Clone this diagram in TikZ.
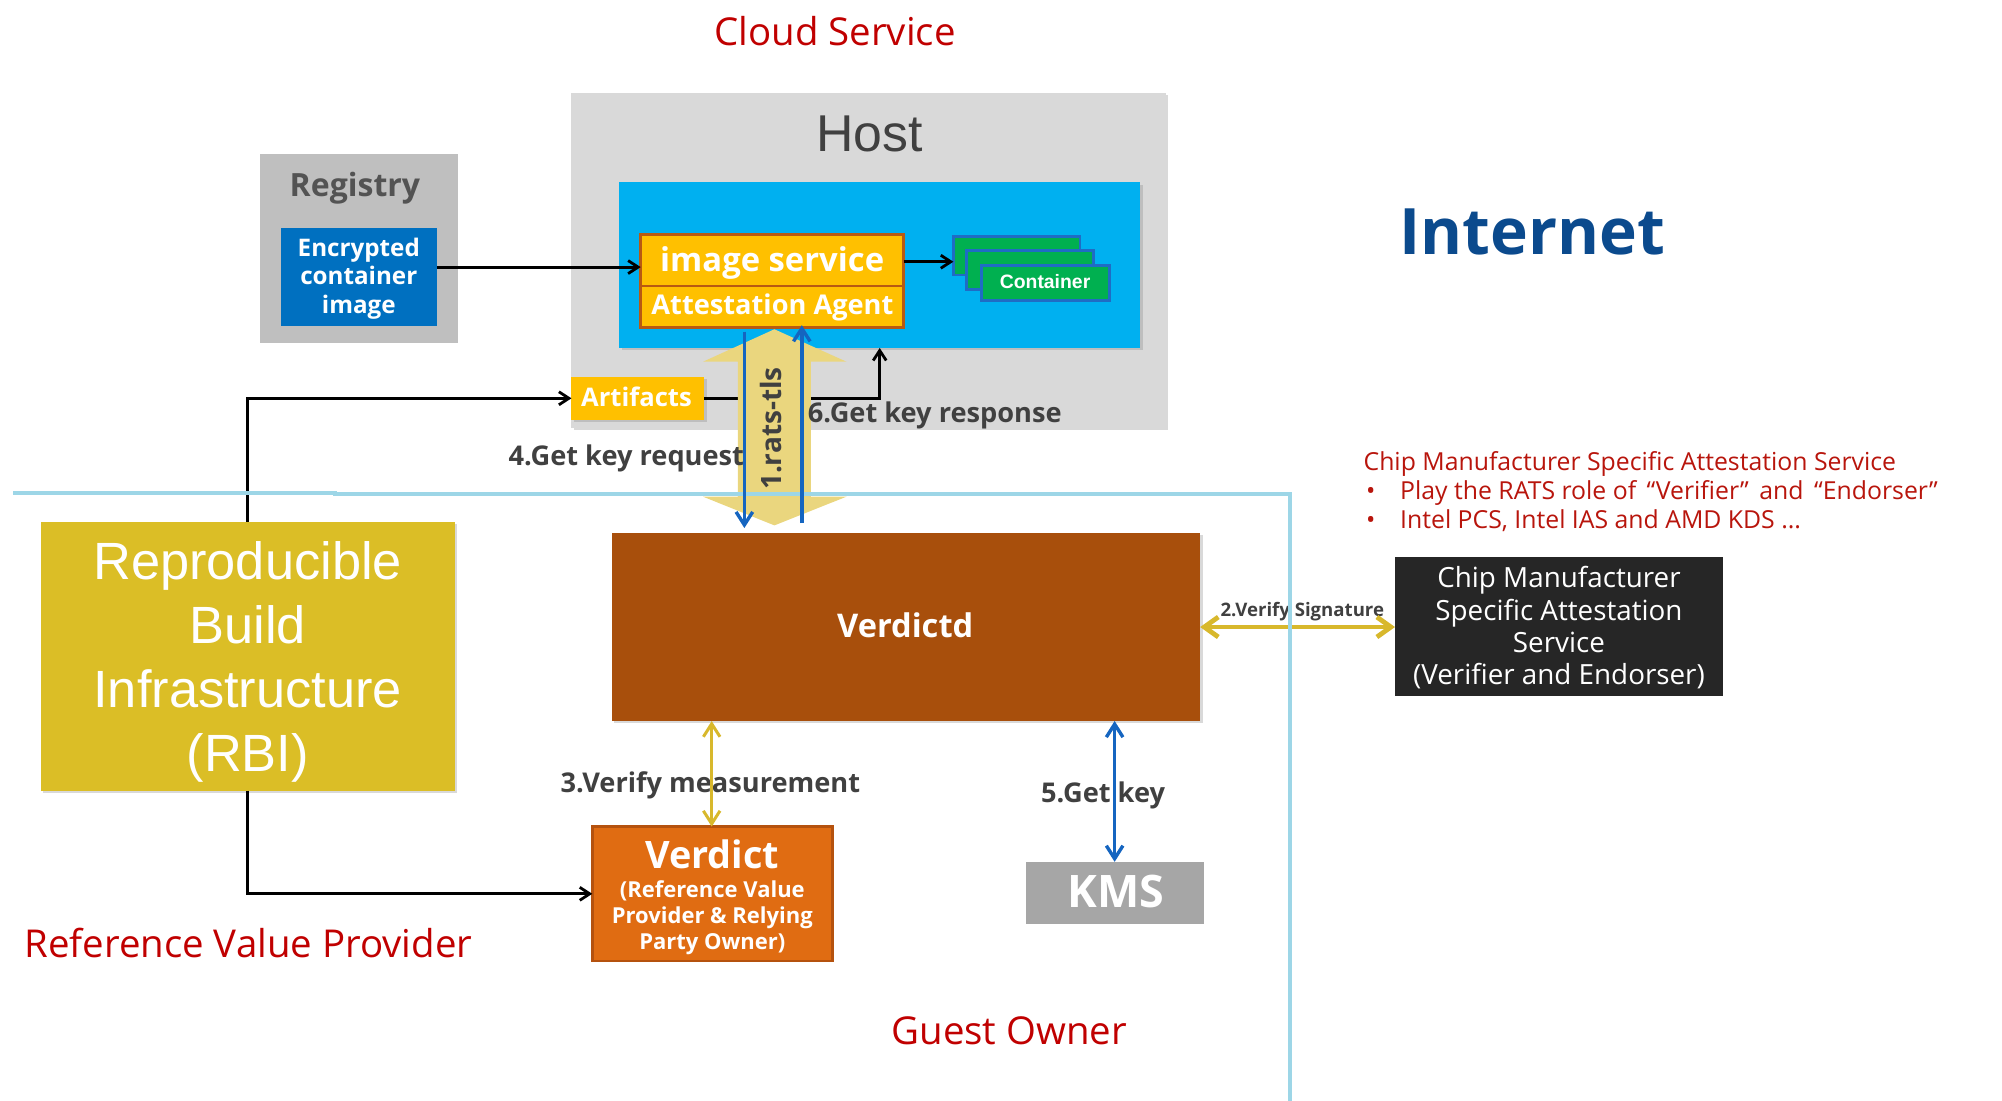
\documentclass[tikz,border=0pt]{standalone}
\usepackage{fontspec}
\setmainfont{Open Sans}
\newfontfamily\arialf{Liberation Sans}
\usetikzlibrary{arrows.meta,fit,shadows}
\definecolor{hostgray}{HTML}{D9D9D9}
\definecolor{hostblue}{HTML}{00B0F0}
\definecolor{ambr}{HTML}{FFC000}
\definecolor{ambrbd}{HTML}{B85A12}
\definecolor{contgreen}{HTML}{00B050}
\definecolor{contblue}{HTML}{1F6CC4}
\definecolor{reggray}{HTML}{BFBFBF}
\definecolor{encblue}{HTML}{0070C0}
\definecolor{rbigold}{HTML}{DBBE26}
\definecolor{vdbrown}{HTML}{A84F0C}
\definecolor{chipdark}{HTML}{262626}
\definecolor{verdictor}{HTML}{E06C12}
\definecolor{verdictbd}{HTML}{B5520E}
\definecolor{kmsgray}{HTML}{A6A6A6}
\definecolor{goldarr}{HTML}{D8B82C}
\definecolor{khaki}{HTML}{EAD67E}
\definecolor{sepblue}{HTML}{9DD6E7}
\definecolor{arrowblue}{HTML}{1565C0}
\definecolor{headred}{HTML}{C00000}
\definecolor{chipred}{HTML}{B8150C}
\definecolor{lblgray}{HTML}{404040}
\definecolor{netblue}{HTML}{0B4A8D}
\begin{document}
\begin{tikzpicture}[x=0.6384pt,y=-0.6384pt,
  box/.style={inner sep=0pt, outer sep=0pt},
  shad/.style={drop shadow={shadow xshift=1.2pt,shadow yshift=-1.2pt,opacity=0.3}},
  txt/.style={inner sep=0pt, outer sep=0pt, anchor=base},
  heading/.style={txt, text=headred, font=\fontsize{19.2}{23}\selectfont},
  lbl/.style={txt, text=lblgray, font=\bfseries\fontsize{13.6}{16}\selectfont},
  blk/.style={draw=black, line width=1.4pt, -{Straight Barb[length=5pt,width=6.5pt]}},
  barrow/.style={draw=arrowblue, line width=1.7pt, -{Straight Barb[length=6.5pt,width=8.3pt]}},
  bdarrow/.style={draw=arrowblue, line width=1.7pt, {Straight Barb[length=6.5pt,width=8.3pt]}-{Straight Barb[length=6.5pt,width=8.3pt]}},
  gthin/.style={draw=goldarr, line width=1.5pt, {Straight Barb[length=6.5pt,width=8.3pt]}-{Straight Barb[length=6.5pt,width=8.3pt]}},
  gthick/.style={draw=goldarr, line width=2.4pt, {Straight Barb[length=7pt,width=10pt]}-{Straight Barb[length=7pt,width=10pt]}},
  sep/.style={draw=sepblue, line width=2pt},
  contbox/.style={box, fill=contgreen, draw=contblue, line width=1.4pt},
  ambox/.style={box, fill=ambr, draw=ambrbd, line width=1.3pt}
]
\useasboundingbox (0,0) rectangle (1568,862.3);

% ---------- boxes ----------
\node[box, fill=hostgray, shad, fit={(447.6,72.9) (913,335)}] (host) {};
\node[txt, text=lblgray, font=\arialf\fontsize{25.9}{30}\selectfont] (hostlbl) at (681,118.4) {Host};
\node[box, fill=hostblue, shad, fit={(485,142.8) (893,272.5)}] (hblue) {};
\node[ambox, fit={(501.8,183.5) (707.8,224)}] (isvc) {};
\node[ambox, fit={(501.8,224) (707.8,256.6)}] (attag) {};
\node[txt, text=white, font=\bfseries\fontsize{16.4}{19}\selectfont] (isvclbl) at (604.8,212.8) {image service};
\node[txt, text=white, font=\bfseries\fontsize{13.6}{16}\selectfont] (attaglbl) at (605,246.2) {Attestation Agent};

\node[contbox, fit={(746.7,185.4) (845.9,215.4)}] (cont1) {};
\node[contbox, fit={(757,196.3) (856.3,226.6)}] (cont2) {};
\node[contbox, fit={(768.9,208.1) (868.8,235.5)}] (cont3) {};
\node[txt, text=white, font=\arialf\bfseries\fontsize{9.7}{11}\selectfont] (contlbl) at (818.5,225.8) {Container};

\node[box, fill=reggray, fit={(203.6,120.6) (358.5,268.9)}] (reg) {};
\node[txt, text=lblgray!90!white, font=\bfseries\fontsize{16}{19}\selectfont] (reglbl) at (278,154) {Registry};
\node[box, fill=encblue, fit={(220.1,178.8) (342,255)}] (enc) {};
\node[txt, text=white, align=center, font=\bfseries\fontsize{12.1}{14.3}\selectfont] (enclbl) at (281,245.4) {Encrypted\\container\\image};

\node[box, fill=ambr, shad, fit={(447.6,295) (551.6,328.9)}] (art) {};
\node[txt, text=white, font=\bfseries\fontsize{12.8}{15}\selectfont] (artlbl) at (498.5,318) {Artifacts};

\node[box, fill=rbigold, shad, fit={(31.9,408.6) (356,619.3)}] (rbi) {};
\node[txt, text=white, align=center, font=\arialf\fontsize{26.2}{32}\selectfont] (rbilbl) at (194,604.4) {Reproducible\\Build\\Infrastructure\\(RBI)};

\node[box, fill=vdbrown, shad, fit={(479,417.5) (940,564.7)}] (vd) {};
\node[txt, text=white, font=\bfseries\fontsize{16.3}{19}\selectfont] (vdlbl) at (709,499) {Verdictd};

\node[box, fill=chipdark, fit={(1092.6,436.3) (1349.6,545.5)}] (chip) {};
\node[txt, text=white, align=center, font=\fontsize{13.9}{16.15}\selectfont] (chiplbl) at (1221,536.2) {Chip Manufacturer\\Specific Attestation\\Service\\(Verifier and Endorser)};

\node[box, fill=verdictor, draw=verdictbd, line width=1.3pt, fit={(463.9,647.4) (651.9,752.7)}] (verdict) {};
\node[txt, text=white, font=\bfseries\fontsize{18.9}{22}\selectfont] (verdictlbl) at (557.9,680) {Verdict};
\node[txt, text=white, align=center, font=\bfseries\fontsize{11}{12.9}\selectfont] (verdictsub) at (557.9,743.3) {(Reference Value\\Provider \& Relying\\Party Owner)};

\node[box, fill=kmsgray, fit={(803.5,675) (943,723.3)}] (kms) {};
\node[txt, text=white, font=\bfseries\fontsize{22.4}{26}\selectfont] (kmslbl) at (874,711) {KMS};

% ---------- headings ----------
\node[heading] (cloud) at (654,35.8) {Cloud Service};
\node[heading] (rvp) at (194.5,750) {Reference Value Provider};
\node[heading] (guest) at (790.5,818.2) {Guest Owner};
\node[txt, text=netblue, font=\bfseries\fontsize{32}{38}\selectfont] (internet) at (1200,199.5) {Internet};
\node[txt, anchor=base west, text=chipred, align=left, font=\fontsize{12.4}{14.5}\selectfont] (chipnote) at (1068,414.2)
  {Chip Manufacturer Specific Attestation Service\\
   \makebox[18.3pt][l]{\hspace{1.3pt}•}Play the RATS role of \,“Verifier”\, and \,“Endorser”\\
   \makebox[18.3pt][l]{\hspace{1.3pt}•}Intel PCS, Intel IAS and AMD KDS ...};

% ---------- black connectors ----------
\coordinate (yE) at (0,209.2);
\coordinate (yC) at (0,205);
\coordinate (aa) at (689,272.5);
\draw[blk] (enc.east |- yE) -- (isvc.west |- yE);
\draw[blk] (isvc.east |- yC) -- (cont1.west |- yC);
\draw[blk] (rbi.north) |- (art.west);
\draw[blk] (rbi.south) |- (verdict.west);
\draw[blk] (art.east) -| (aa);

% ---------- rats-tls big arrow ----------
\fill[khaki] (606.5,257.9) -- (663,283.3) -- (635,283.3) -- (635,389) -- (663,389) -- (606.5,411.5)
  -- (550.6,389) -- (578,389) -- (578,283.3) -- (550.6,283.3) -- cycle;
\node[txt, rotate=90, text=lblgray, font=\bfseries\fontsize{14}{16}\selectfont] (rats) at (612.2,335.7) {1.rats-tls};

% ---------- labels ----------
\node[lbl, anchor=base west] (l6) at (632.7,331) {6.Get key response};
\node[lbl, anchor=base east] (l4) at (582.7,364.6) {4.Get key request};
\node[lbl] (l3) at (556.4,620.6) {3.Verify measurement};
\node[lbl] (l5) at (864,628.4) {5.Get key};
\node[txt, text=lblgray, font=\bfseries\fontsize{9.3}{11}\selectfont] (l2) at (1020,482.5) {2.Verify Signature};

% ---------- coloured connectors ----------
\coordinate (x3) at (557.4,0);
\coordinate (x5) at (873,0);
\draw[gthin] (vd.south -| x3) -- (verdict.north -| x3);
\draw[gthick] (vd.east) -- (chip.west |- vd.east);

% separator
\draw[sep] (10.4,386.4) -- (262.4,386.4) -- (262.4,387.3) -- (1010,387.3) -- (1010,862.3);

\coordinate (xl) at (583,0);
\coordinate (xr) at (628,0);
\draw[barrow, shorten <=2pt, shorten >=2.5pt] (attag.south -| xl) -- (vd.north -| xl);
\draw[barrow, shorten <=5pt, shorten >=-1.2pt] (vd.north -| xr) -- (attag.south -| xr);
\draw[bdarrow] (vd.south -| x5) -- (kms.north -| x5);
\end{tikzpicture}
\end{document}
